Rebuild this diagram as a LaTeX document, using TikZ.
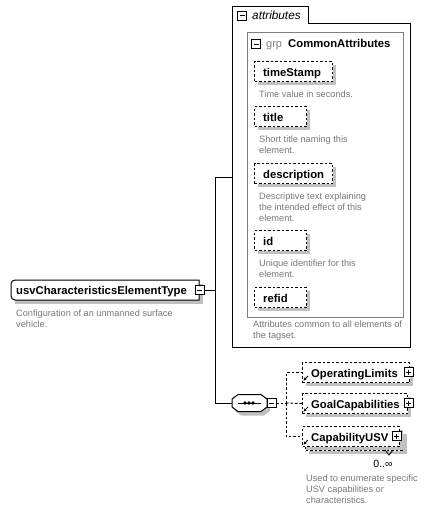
\documentclass[tikz,border=0pt]{standalone}
\usepackage{fontspec}
\setmainfont{Liberation Sans}
\usetikzlibrary{arrows.meta}
\definecolor{desccol}{RGB}{120,120,120}
\definecolor{shadcol}{RGB}{192,192,192}
\definecolor{grpcol}{RGB}{128,128,128}
\tikzset{
  ebox/.style={draw, dash pattern=on 2.5pt off 2pt, fill=white, anchor=north west, inner sep=0, line width=1pt},
  etext/.style={anchor=base west, inner sep=0, font=\bfseries\fontsize{11.3}{12}\selectfont},
  dtext/.style={anchor=north west, inner sep=0, align=left, text=desccol, font=\fontsize{9.2}{11}\selectfont},
  btn/.style={draw, fill=white, minimum size=9pt, inner sep=0, line width=0.8pt},
  minusbtn/.style={btn, path picture={\draw[line width=0.8pt] ([xshift=2pt]path picture bounding box.west) -- ([xshift=-2pt]path picture bounding box.east);}},
  plusbtn/.style={btn, path picture={\draw[line width=0.8pt] ([xshift=2pt]path picture bounding box.west) -- ([xshift=-2pt]path picture bounding box.east); \draw[line width=0.8pt] ([yshift=-2pt]path picture bounding box.north) -- ([yshift=2pt]path picture bounding box.south);}},
  conn/.style={line width=1pt},
  dconn/.style={line width=1pt, dash pattern=on 2.5pt off 2pt},
  refarrow/.style={line width=0.8pt, -{Stealth[length=3pt,width=3pt]}},
}
% name, x, y, width, text
\newcommand\xelem[5]{%
  \fill[shadcol] (#2+4,#3+4) rectangle (#2+#4+4,#3+24);
  \node[ebox, minimum width=#4, minimum height=20] (#1) at (#2,#3) {};
  \node[etext] (#1-t) at (#2+9,#3+15) {#5};
}
\begin{document}
\begin{tikzpicture}[x=1pt,y=-1pt]
\useasboundingbox (0,0) rectangle (431,511);
\fill[white] (0,0) rectangle (431,511);

% ---------- attributes container ----------
\draw[line width=1pt, fill=white] (232,347) -- (232,7) -- (308,7) -- (308,24) -- (410,24) -- (410,347) -- cycle;
\node[minusbtn] (attrbtn) at (242,15.5) {};
\node[anchor=base west, inner sep=0, font=\itshape\fontsize{11.8}{12}\selectfont] (attrlbl) at (252,19.5) {attributes};
\coordinate (attrin) at (232,177);

% grp box
\draw[grpcol, line width=1pt] (247,33) rectangle (403,317);
\node[minusbtn] (grpbtn) at (256,44) {};
\node[anchor=base west, inner sep=0, text=grpcol, font=\fontsize{11}{12}\selectfont] (grplbl) at (266,48) {grp};
\node[etext] (grpname) at (288,48) {CommonAttributes};

\xelem{ts}{254}{61}{78}{timeStamp}
\node[dtext] (ts-d) at (259,91) {Time value in seconds.};
\xelem{ti}{254}{106}{52}{title}
\node[dtext] (ti-d) at (259,136) {Short title naming this\\element.};
\xelem{de}{254}{163}{78}{description}
\node[dtext] (de-d) at (259,193) {Descriptive text explaining\\the intended effect of this\\element.};
\xelem{id}{254}{230}{52}{id}
\node[dtext] (id-d) at (259,260) {Unique identifier for this\\element.};
\xelem{rf}{254}{287}{52}{refid}
\node[dtext] (grp-d) at (253,321) {Attributes common to all elements of\\the tagset.};

% ---------- main element ----------
\fill[shadcol] (15,284) rectangle (203,304);
\draw[fill=white, line width=1pt] (199,280) -- (15,280) arc[start angle=270, end angle=180, radius=4] -- (11,296) arc[start angle=180, end angle=90, radius=4] -- (199,300) -- cycle;
\node[inner sep=0, minimum width=188, minimum height=20, anchor=north west] (main) at (11,280) {};
\node[etext] (main-t) at (16,294.5) {usvCharacteristicsElementType};
\node[minusbtn] (mainbtn) at (199.5,290) {};
\node[dtext] (main-d) at (16,310) {Configuration of an unmanned surface\\vehicle.};

% ---------- sequence ----------
\fill[shadcol] (235,403) -- (241,398.5) -- (264,398.5) -- (270,403) -- (270,411) -- (264,415.5) -- (241,415.5) -- (235,411) -- cycle;
\draw[fill=white, line width=1pt] (232,399) -- (238,394.5) -- (261,394.5) -- (267,399) -- (267,407) -- (261,411.5) -- (238,411.5) -- (232,407) -- cycle;
\node[inner sep=0, minimum width=35, minimum height=17] (seq) at (249.5,403) {};
\draw[line width=1pt] (238,403) -- (261,403);
\foreach \dx in {245,249,253} \fill (\dx,403) circle[radius=1.8];
\node[minusbtn] (seqbtn) at (271.5,403) {};

% ---------- children ----------
\xelem{ol}{302}{362}{107}{OperatingLimits}
\node[plusbtn] (olbtn) at (408.5,372) {};
\draw[refarrow] (308,376) -- (303.5,380.5);

\xelem{gc}{302}{393}{105}{GoalCapabilities}
\node[plusbtn] (gcbtn) at (408.5,403) {};
\draw[refarrow] (308,407) -- (303.5,411.5);

% CapabilityUSV (multiple occurrences)
\fill[shadcol] (309,434) rectangle (407,454);
\node[ebox, minimum width=97, minimum height=20] (cu-back) at (305,430) {};
\xelem{cu}{302}{426}{97}{CapabilityUSV}
\node[plusbtn] (cubtn) at (396.5,436) {};
\draw[refarrow] (308,440) -- (303.5,444.5);
\draw[line width=0.8pt] (385,450) -- (389,455) -- (393,450);
\node[anchor=base, inner sep=0, font=\fontsize{10.5}{12}\selectfont] (cu-m) at (383,467) {0..\symbol{"221E}};
\node[dtext] (cu-d) at (306,475) {Used to enumerate specific\\USV capabilities or\\characteristics.};

% ---------- connectors ----------
\coordinate (spine) at (215,290);
\draw[conn] (mainbtn.east) -- (spine);
\draw[conn] (spine) |- (attrin);
\draw[conn] (spine) |- (seq.west);
\coordinate (seqj) at (286,403);
\draw[dconn] (seqbtn.east) -- (seqj);
\draw[dconn] (seqj) |- (ol.west);
\draw[dconn] (seqj) -- (gc.west);
\draw[dconn] (seqj) |- (cu.west);
\end{tikzpicture}
\end{document}
